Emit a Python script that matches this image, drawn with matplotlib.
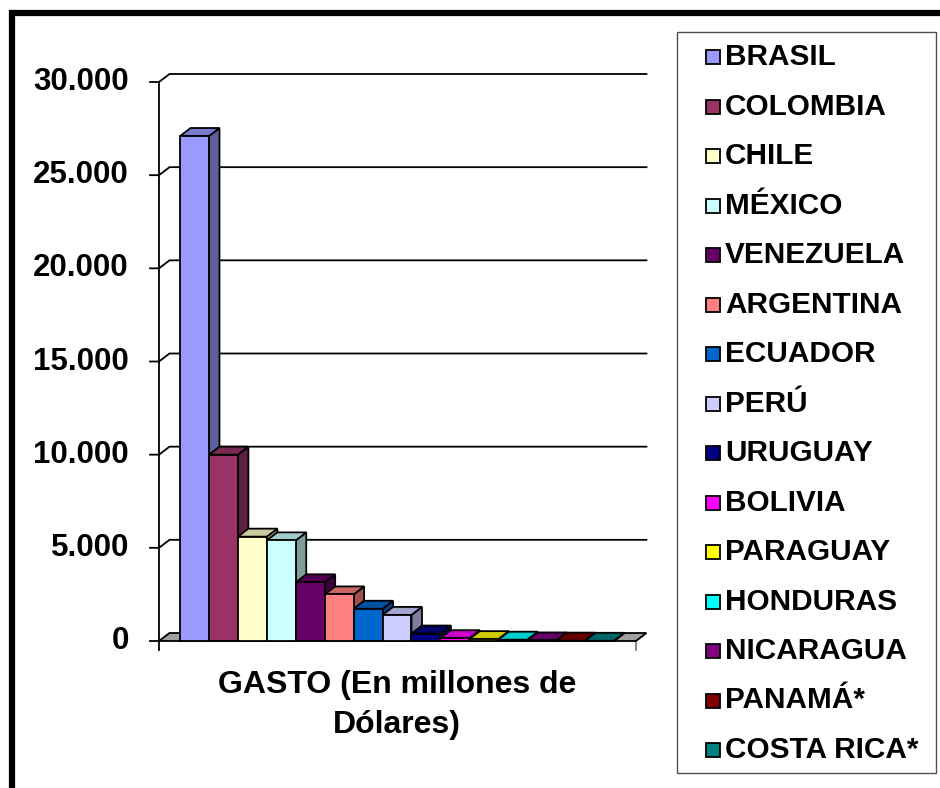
import matplotlib
matplotlib.use("Agg")
import matplotlib.pyplot as plt
import matplotlib.colors as mcolors
from matplotlib.patches import Polygon, Rectangle

# data (millones de dólares)
paises = ["BRASIL", "COLOMBIA", "CHILE", "MÉXICO", "VENEZUELA", "ARGENTINA",
          "ECUADOR", "PERÚ", "URUGUAY", "BOLIVIA", "PARAGUAY", "HONDURAS",
          "NICARAGUA", "PANAMÁ*", "COSTA RICA*"]
gasto = [27100, 10000, 5600, 5400, 3150, 2500, 1730, 1400, 400, 150, 100, 70, 30, 20, 10]
colores = ["#9999FF", "#993366", "#FFFFCC", "#CCFFFF", "#660066", "#FF8080",
           "#0066CC", "#CCCCFF", "#000080", "#FF00FF", "#FFFF00", "#00FFFF",
           "#800080", "#800000", "#008080"]
yticks = [0, 5000, 10000, 15000, 20000, 25000, 30000]
ytick_labels = ["0", "5.000", "10.000", "15.000", "20.000", "25.000", "30.000"]
titulo_x = "GASTO (En millones de\nDólares)"

FONT = "Liberation Sans"
W, H = 940, 788

fig = plt.figure(figsize=(W / 100, H / 100), dpi=100)
ax = fig.add_axes([0, 0, 1, 1])
ax.set_axis_off()

# map category index / value so the chart lands where the reference has it
X0, XS = 194.5, 28.93          # px of first bar centre, px per category
Y0, YS = 641.0, 559.0 / 30000  # px of zero line, px per unit
ax.set_xlim(-X0 / XS, (W - X0) / XS)
ax.set_ylim((Y0 - H) / YS, Y0 / YS)

DX, DY = 10.5 / XS, 8.0 / YS   # 3-D depth offset
xlo, xhi = -1.227, len(paises) - 1 + 1.26
LW = 1.3


def shade(c, f):
    return tuple(v * f for v in mcolors.to_rgb(c))


# back-wall gridlines with the little diagonal from the front axis
for v in yticks[1:]:
    ax.plot([xlo - 0.31, xlo, xlo + DX, xhi + DX], [v, v, v + DY, v + DY],
            color="black", lw=1.3, zorder=2, solid_joinstyle="miter")
ax.plot([xlo - 0.31, xlo], [0, 0], color="black", lw=1.3, zorder=2)
# front value axis
ax.plot([xlo, xlo], [-9 / YS, yticks[-1]], color="black", lw=1.3, zorder=2)
ax.plot([xhi, xhi], [-9 / YS, 0], color="#808080", lw=1.3, zorder=2)

# floor
ax.add_patch(Polygon([(xlo, 0), (xhi, 0), (xhi + DX, DY), (xlo + DX, DY)],
                     closed=True, facecolor="#A0A0A0", edgecolor="black",
                     lw=LW, zorder=3))

# bars: side, top, then front face
for i, (v, c) in enumerate(zip(gasto, colores)):
    z = 10 + 3 * i
    l, r = i - 0.5, i + 0.5
    ax.add_patch(Polygon([(r, 0), (r + DX, DY), (r + DX, v + DY), (r, v)],
                         closed=True, facecolor=shade(c, 0.62), edgecolor="black",
                         lw=LW, zorder=z, joinstyle="miter"))
    ax.add_patch(Polygon([(l, v), (r, v), (r + DX, v + DY), (l + DX, v + DY)],
                         closed=True, facecolor=shade(c, 0.8), edgecolor="black",
                         lw=LW, zorder=z + 1, joinstyle="miter"))
    ax.bar(i, v, width=1.0, color=c, edgecolor="black", linewidth=LW,
           zorder=z + 2)

# value tick labels
for v, s in zip(yticks, ytick_labels):
    ax.text((129 - X0) / XS, v, s, ha="right", va="center", family=FONT,
            fontweight="bold", fontsize=22.5, color="black")

# category title
ax.text((len(paises) - 1) / 2, (Y0 - 705) / YS, titulo_x, ha="center",
        va="center", family=FONT, fontweight="bold", fontsize=23,
        linespacing=1.45, color="black")

# legend and frame, in pixel coordinates
lax = fig.add_axes([0, 0, 1, 1], zorder=5)
lax.set_axis_off()
lax.set_xlim(0, W)
lax.set_ylim(H, 0)
lax.patch.set_alpha(0)
lax.add_patch(Rectangle((677, 32), 259, 741, facecolor="white",
                        edgecolor="#505050", lw=1.0))
for k, (p, c) in enumerate(zip(paises, colores)):
    yc = 57 + 49.5 * k
    lax.add_patch(Rectangle((706, yc - 7), 14, 14, facecolor=c,
                            edgecolor="black", lw=1.3))
    lax.text(725, yc, p, ha="left", va="center", family=FONT,
             fontweight="bold", fontsize=21.4, color="black")

lax.plot([9, W], [13, 13], color="black", lw=4.5, solid_capstyle="butt")
lax.plot([12, 12], [10, H], color="black", lw=4.5, solid_capstyle="butt")

fig.savefig("out.png", dpi=100, facecolor="white")
